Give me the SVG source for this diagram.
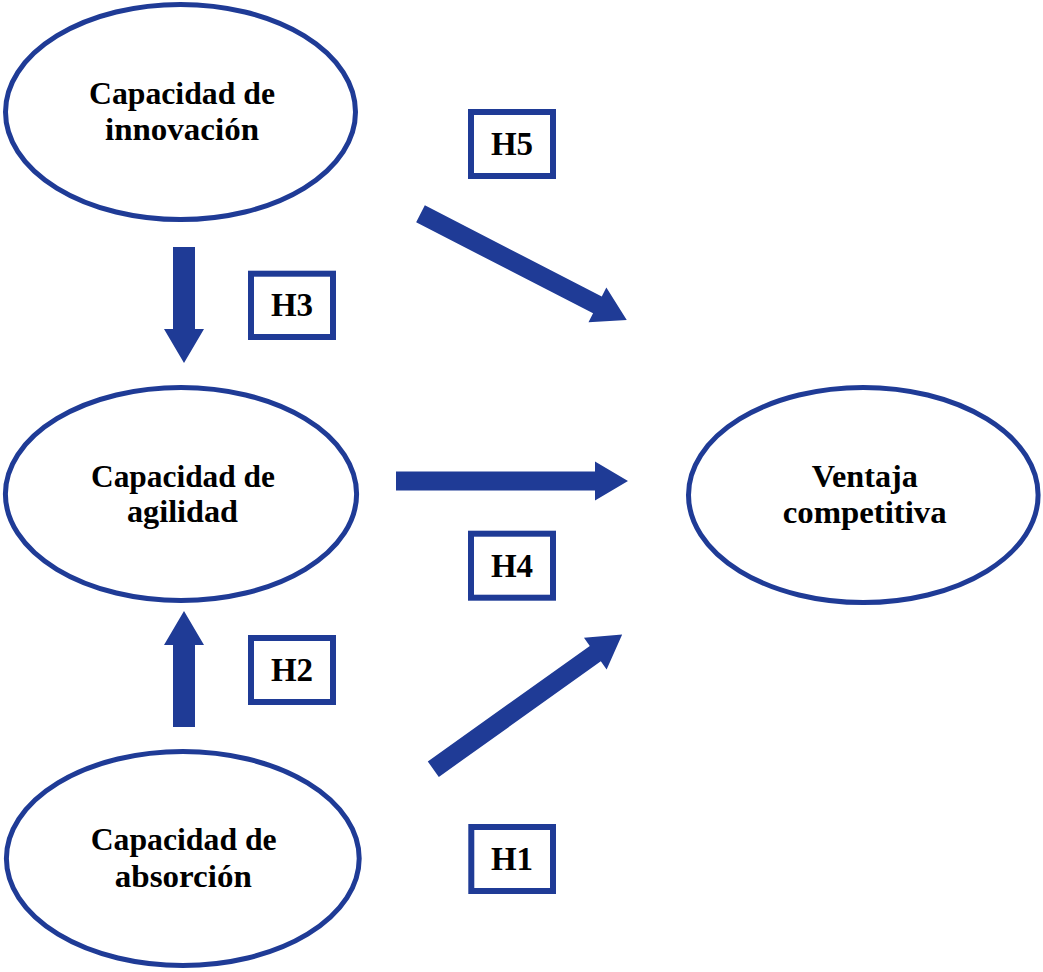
<svg xmlns="http://www.w3.org/2000/svg" width="1043" height="972" viewBox="0 0 1043 972">
<defs>
<style>
.node ellipse{fill:#fff;stroke:#1F3B96;stroke-width:5}
.lbl{font-family:"Liberation Serif","Times New Roman",serif;font-weight:bold;font-size:31px;fill:#000;text-anchor:middle}
.hbox rect{fill:#fff;stroke:#1F3B96;stroke-width:6}
.htxt{font-family:"Liberation Serif","Times New Roman",serif;font-weight:bold;font-size:33px;fill:#000;text-anchor:middle}
.arr{fill:#1F3B96}
</style>
<polygon id="diag" points="0,-9.5 199,-9.5 199,-19.5 232,0 199,19.5 199,9.5 0,9.5"/>
<polygon id="vert" points="0,-11 82,-11 82,-20 116,0 82,20 82,11 0,11"/>
</defs>
<rect width="1043" height="972" fill="#fff"/>
<g id="n-innovacion" class="node">
<ellipse cx="180.5" cy="112" rx="175" ry="107.5"/>
<text class="lbl" x="182" y="104.3" textLength="186" lengthAdjust="spacingAndGlyphs">Capacidad de</text>
<text class="lbl" x="182" y="140" textLength="154" lengthAdjust="spacingAndGlyphs">innovación</text>
</g>
<g id="n-agilidad" class="node">
<ellipse cx="181" cy="494" rx="175.6" ry="106.5"/>
<text class="lbl" x="183" y="486.7" textLength="184" lengthAdjust="spacingAndGlyphs">Capacidad de</text>
<text class="lbl" x="182.5" y="521.7" textLength="111" lengthAdjust="spacingAndGlyphs">agilidad</text>
</g>
<g id="n-ventaja" class="node">
<ellipse cx="863.3" cy="495" rx="174.8" ry="107.5"/>
<text class="lbl" x="864.8" y="487.3" textLength="106" lengthAdjust="spacingAndGlyphs">Ventaja</text>
<text class="lbl" x="864.7" y="522.7" textLength="164" lengthAdjust="spacingAndGlyphs">competitiva</text>
</g>
<g id="n-absorcion" class="node">
<ellipse cx="182.8" cy="858.5" rx="176.4" ry="107"/>
<text class="lbl" x="183.7" y="850" textLength="186" lengthAdjust="spacingAndGlyphs">Capacidad de</text>
<text class="lbl" x="183.3" y="886.7" textLength="137" lengthAdjust="spacingAndGlyphs">absorción</text>
</g>
<g id="connectors" class="arr">
<use href="#diag" transform="translate(420.5,213.8) rotate(27.25)"/>
<use href="#diag" transform="translate(396,481)"/>
<use href="#diag" transform="translate(433.3,769.2) rotate(-35.5)"/>
<use href="#vert" transform="translate(184,247) rotate(90)"/>
<use href="#vert" transform="translate(184,727) rotate(-90)"/>
</g>
<g id="h5" class="hbox">
<rect x="471" y="112" width="82" height="64"/>
<text class="htxt" x="512" y="155">H5</text>
</g>
<g id="h3" class="hbox">
<rect x="251" y="273.7" width="82" height="63.3"/>
<text class="htxt" x="292" y="316">H3</text>
</g>
<g id="h4" class="hbox">
<rect x="471" y="533.7" width="82" height="64"/>
<text class="htxt" x="512" y="577">H4</text>
</g>
<g id="h2" class="hbox">
<rect x="251" y="638" width="82" height="64"/>
<text class="htxt" x="292" y="681">H2</text>
</g>
<g id="h1" class="hbox">
<rect x="471.3" y="827" width="81.7" height="64"/>
<text class="htxt" x="512" y="870">H1</text>
</g>
</svg>
